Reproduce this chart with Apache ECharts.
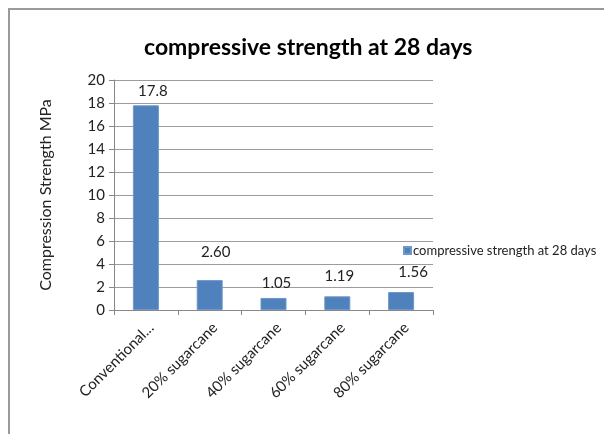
<!DOCTYPE html>
<html>
<head>
<meta charset="utf-8">
<script src="https://cdn.jsdelivr.net/npm/echarts@6/dist/echarts.min.js"></script>
<style>
  html, body { margin: 0; padding: 0; background: #fff; }
  #frame { position: absolute; left: 8px; top: 8px; width: 600px; height: 430px;
           border-left: 2px solid #9a9a9a; border-top: 2px solid #9a9a9a; }
  #chart { position: absolute; left: 0; top: 0; width: 604px; height: 434px; }
</style>
</head>
<body>
<div id="frame"></div>
<div id="chart"></div>
<script>
// Compressive strength at 28 days by mix
const categories = ['Conventional...', '20% sugarcane', '40% sugarcane', '60% sugarcane', '80% sugarcane'];
const strengthValues = [17.8, 2.60, 1.05, 1.19, 1.56];
const strengthLabels = ['17.8', '2.60', '1.05', '1.19', '1.56'];
const seriesName = 'compressive strength at 28 days';

// Hand-placed value labels: gap above the bar and sideways nudge (px)
const labelGap = [7, 20, 7, 13, 12];
const labelNudge = [7, 6, 3, 2, 12];

const fontFamily = 'Lato, "Open Sans", sans-serif';
const chart = echarts.init(document.getElementById('chart'), null, { renderer: 'canvas' });

const barData = strengthValues.map((v, i) => ({
  value: v,
  label: { distance: labelGap[i], offset: [labelNudge[i], 0] }
}));

chart.setOption({
  animation: false,
  backgroundColor: 'transparent',
  title: {
    text: 'compressive strength at 28 days',
    left: 139,
    top: 31,
    textStyle: { fontFamily, fontSize: 23, fontWeight: 'bold', color: '#000' }
  },
  legend: {
    data: [seriesName],
    left: 398,
    top: 239,
    itemWidth: 7,
    itemHeight: 7,
    itemGap: 3,
    icon: 'rect',
    textStyle: { fontFamily, fontSize: 13, color: '#222', padding: [0, 0, 0, -3] }
  },
  grid: { left: 114, right: 171, top: 80, bottom: 124 },
  xAxis: {
    type: 'category',
    data: categories,
    axisLine: { lineStyle: { color: '#888' } },
    axisTick: { show: true, length: 5, lineStyle: { color: '#888' } },
    axisLabel: {
      rotate: 45,
      interval: 0,
      margin: 10,
      verticalAlign: 'top',
      fontFamily,
      fontSize: 15,
      color: '#222'
    }
  },
  yAxis: {
    type: 'value',
    min: 0,
    max: 20,
    interval: 2,
    name: 'Compression Strength MPa',
    nameLocation: 'middle',
    nameGap: 60,
    nameTextStyle: { fontFamily, fontSize: 16, color: '#222' },
    axisLine: { show: true, lineStyle: { color: '#888' } },
    axisTick: { show: true, length: 5, inside: false, lineStyle: { color: '#888' } },
    axisLabel: { fontFamily, fontSize: 15, color: '#222', margin: 9 },
    splitLine: { lineStyle: { color: '#9c9c9c' } }
  },
  series: [{
    name: seriesName,
    type: 'bar',
    data: barData,
    barWidth: 26,
    itemStyle: { color: '#4F81BD', borderColor: '#6f97c8', borderWidth: 1 },
    label: {
      show: true,
      position: 'top',
      fontFamily,
      fontSize: 15,
      color: '#222',
      formatter: p => strengthLabels[p.dataIndex]
    }
  }]
});
</script>
</body>
</html>
